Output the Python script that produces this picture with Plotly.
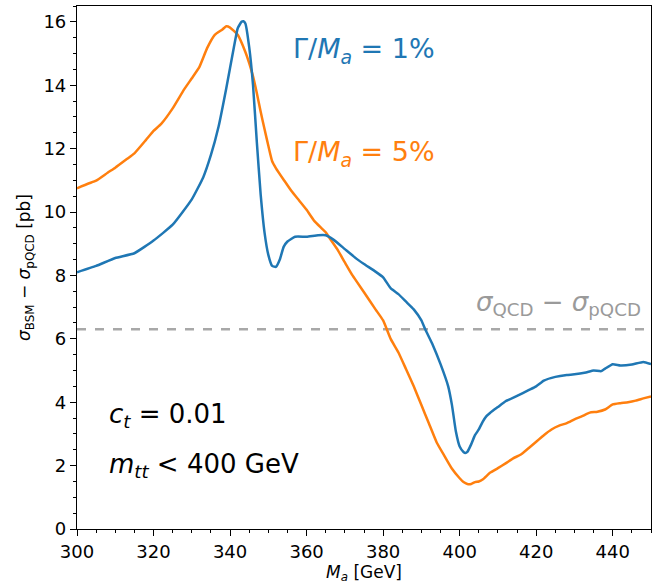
import plotly.graph_objects as go

# Blue: Gamma/M_a = 1%
ma_1 = [300, 305, 310, 315, 320, 325, 330, 333, 335, 337, 339, 341, 342, 343, 343.5, 344, 345, 346, 347, 348,
        349, 350, 351, 352, 353, 354, 355, 357, 360, 363, 365, 367, 370, 373, 375, 378, 380, 382, 384, 386,
        388, 390, 391, 393, 395, 397, 398, 399, 400, 401, 401.5, 402, 403, 404, 405, 406, 407, 408, 410, 412,
        415, 418, 420, 422, 425, 428, 430, 433, 435, 437, 438, 440, 442, 445, 448, 450]
sig_1 = [8.1, 8.3, 8.55, 8.7, 9.1, 9.6, 10.4, 11.1, 11.8, 12.7, 13.9, 15.2, 15.8, 16.0, 16.02, 15.95, 15.2, 14.0, 12.2, 10.55,
         9.36, 8.65, 8.3, 8.27, 8.5, 8.9, 9.07, 9.22, 9.22, 9.27, 9.27, 9.13, 8.83, 8.53, 8.36, 8.12, 7.94, 7.59, 7.41, 7.17,
         6.93, 6.58, 6.3, 5.8, 5.2, 4.5, 3.9, 3.08, 2.6, 2.43, 2.4, 2.43, 2.67, 2.96, 3.14, 3.38, 3.56, 3.67, 3.85, 4.03,
         4.2, 4.38, 4.5, 4.68, 4.8, 4.86, 4.88, 4.94, 5.0, 4.98, 5.06, 5.2, 5.16, 5.19, 5.27, 5.2]

# Orange: Gamma/M_a = 5%
ma_5 = [300, 303, 305, 308, 310, 313, 315, 318, 320, 322, 325, 328, 330, 332, 334, 336, 338, 339, 340, 342,
        344, 345, 346, 347, 348, 349, 350, 351, 352, 354, 356, 358, 360, 362, 364, 365, 366, 368, 370, 372,
        375, 378, 380, 382, 384, 386, 388, 390, 392, 394, 396, 398, 400, 401, 402, 403, 404, 405, 406, 408,
        410, 412, 414, 416, 418, 420, 422, 424, 426, 428, 430, 432, 434, 436, 438, 440, 442, 444, 446, 448, 450]
sig_5 = [10.75, 10.9, 10.99, 11.24, 11.4, 11.67, 11.85, 12.27, 12.56, 12.78, 13.27, 13.87, 14.22, 14.58, 15.17, 15.59, 15.76, 15.86, 15.82, 15.59,
         15.05, 14.7, 14.28, 13.75, 13.16, 12.62, 12.09, 11.6, 11.38, 11.02, 10.67, 10.37, 10.07, 9.72, 9.48, 9.36, 9.18, 8.83, 8.41, 8.0,
         7.47, 6.93, 6.58, 5.99, 5.57, 5.04, 4.5, 3.91, 3.32, 2.73, 2.31, 1.9, 1.6, 1.48, 1.42, 1.42, 1.48, 1.5, 1.56, 1.78,
         1.92, 2.07, 2.23, 2.35, 2.55, 2.75, 2.96, 3.14, 3.26, 3.34, 3.46, 3.56, 3.67, 3.7, 3.77, 3.93, 3.97, 4.0, 4.05, 4.12, 4.18]

qcd_level = 6.3
x_ticks = [300, 320, 340, 360, 380, 400, 420, 440]
y_ticks = [0, 2, 4, 6, 8, 10, 12, 14, 16]

BLUE = "#1f77b4"
ORANGE = "#ff7f0e"
GRAY = "#9a9a9a"
FONT = "DejaVu Sans"

fig = go.Figure()
fig.add_trace(go.Scatter(x=[300, 450], y=[qcd_level, qcd_level], mode="lines",
                         line=dict(color="#a8a8a8", width=2.5, dash="dash"), showlegend=False))
fig.add_trace(go.Scatter(x=ma_5, y=sig_5, mode="lines", line=dict(color=ORANGE, width=2.5, shape="spline", smoothing=0.4),
                         showlegend=False))
fig.add_trace(go.Scatter(x=ma_1, y=sig_1, mode="lines", line=dict(color=BLUE, width=2.5, shape="spline", smoothing=0.4),
                         showlegend=False))

ann = []
ann.append(dict(x=355.9, y=15.1, xref="x", yref="y", xanchor="left", yanchor="middle", showarrow=False,
                text="Γ/<i>M</i><sub><i>a</i></sub> = 1%", font=dict(family=FONT, size=27, color=BLUE)))
ann.append(dict(x=355.9, y=11.86, xref="x", yref="y", xanchor="left", yanchor="middle", showarrow=False,
                text="Γ/<i>M</i><sub><i>a</i></sub> = 5%", font=dict(family=FONT, size=27, color=ORANGE)))
ann.append(dict(x=447.8, y=7.12, xref="x", yref="y", xanchor="right", yanchor="middle", showarrow=False,
                text="<i>σ</i><sub>QCD</sub> − <i>σ</i><sub>pQCD</sub>", font=dict(family=FONT, size=26, color=GRAY)))
ann.append(dict(x=307.8, y=3.58, xref="x", yref="y", xanchor="left", yanchor="middle", showarrow=False,
                text="<i>c</i><sub><i>t</i></sub> = 0.01", font=dict(family=FONT, size=26, color="black")))
ann.append(dict(x=307.8, y=2.0, xref="x", yref="y", xanchor="left", yanchor="middle", showarrow=False,
                text="<i>m</i><sub><i>tt</i></sub> < 400 GeV", font=dict(family=FONT, size=26, color="black")))

fig.update_layout(
    width=662, height=588,
    margin=dict(l=77, r=11, t=6, b=59),
    plot_bgcolor="white", paper_bgcolor="white",
    font=dict(family=FONT, size=18, color="black"),
    annotations=ann,
    xaxis=dict(range=[300, 450], tickvals=x_ticks, ticktext=[str(v) for v in x_ticks],
               showgrid=False, zeroline=False, showline=True, linecolor="black", linewidth=1.2, mirror=True,
               ticks="outside", ticklen=6, tickwidth=1.2, tickcolor="black",
               minor=dict(dtick=5, ticks="outside", ticklen=3, tickwidth=1, tickcolor="black", showgrid=False),
               title=dict(text="<i>M</i><sub><i>a</i></sub> [GeV]", font=dict(size=17), standoff=4),
               tickfont=dict(size=18)),
    yaxis=dict(range=[0, 16.5], tickvals=y_ticks, ticktext=[str(v) for v in y_ticks],
               showgrid=False, zeroline=False, showline=True, linecolor="black", linewidth=1.2, mirror=True,
               ticks="outside", ticklen=6, tickwidth=1.2, tickcolor="black",
               minor=dict(dtick=0.5, ticks="outside", ticklen=3, tickwidth=1, tickcolor="black", showgrid=False),
               title=dict(text="<i>σ</i><sub>BSM</sub> − <i>σ</i><sub>pQCD</sub> [pb]", font=dict(size=17), standoff=8),
               tickfont=dict(size=18)),
)

fig.write_html("out.html")
